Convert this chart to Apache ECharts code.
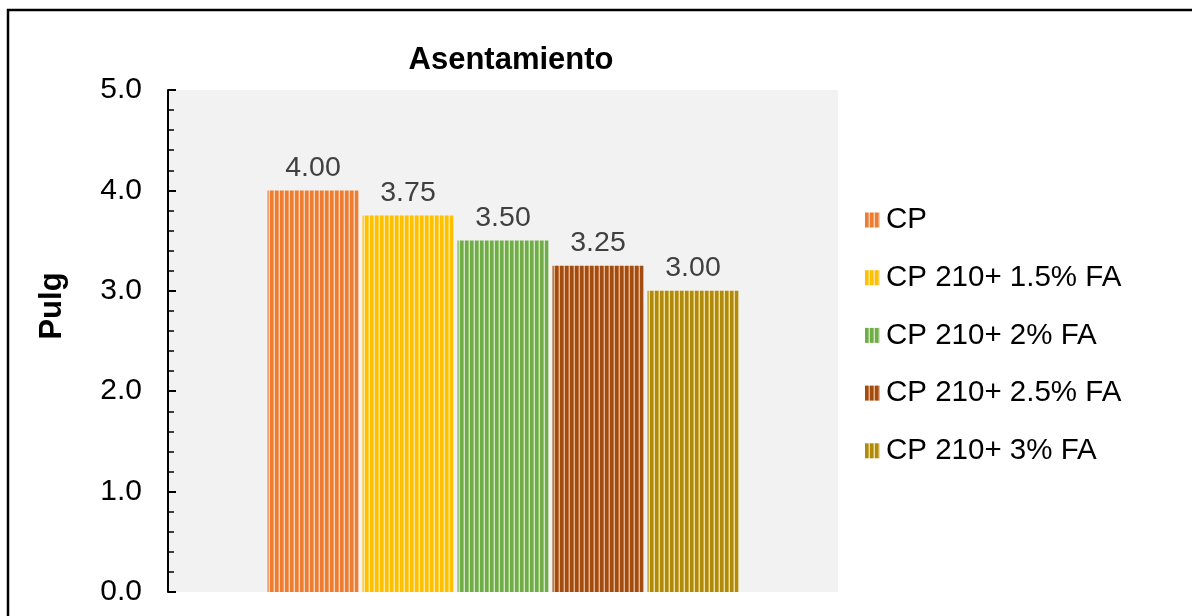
<!DOCTYPE html>
<html>
<head>
<meta charset="utf-8">
<script src="https://cdn.jsdelivr.net/npm/echarts@6/dist/echarts.min.js"></script>
<style>
html,body{margin:0;padding:0;background:#fff;}
#chart{width:1192px;height:616px;}
</style>
</head>
<body>
<div id="chart"></div>
<script>
var categories = ['Asentamiento'];
var seriesNames = ['CP', 'CP 210+ 1.5% FA', 'CP 210+ 2% FA', 'CP 210+ 2.5% FA', 'CP 210+ 3% FA'];
var values = [4.00, 3.75, 3.50, 3.25, 3.00];
var yTicks = [0, 1, 2, 3, 4, 5];

var palette = [
  ['#ED7D31', '#F9D2B6', '#F2A06B'],
  ['#FFC000', '#FFE699', '#FFD24D'],
  ['#70AD47', '#D2E6C4', '#9AC67C'],
  ['#A34C10', '#E3B48E', '#C07A48'],
  ['#B08A0A', '#EEDC9A', '#CDB04C']
];

function stripe(c) {
  var cv = document.createElement('canvas');
  cv.width = 5; cv.height = 4;
  var ctx = cv.getContext('2d');
  ctx.fillStyle = c[0]; ctx.fillRect(0, 0, 3, 4);
  ctx.fillStyle = c[2]; ctx.fillRect(3, 0, 1, 4);
  ctx.fillStyle = c[1]; ctx.fillRect(4, 0, 1, 4);
  return { image: cv, repeat: 'repeat' };
}

var FONT = 'Arial, "Liberation Sans", sans-serif';
var chart = echarts.init(document.getElementById('chart'), null, { renderer: 'canvas' });

var series = seriesNames.map(function (name, i) {
  return {
    name: name,
    type: 'bar',
    data: [values[i]],
    barWidth: 91,
    barGap: '4.4%',
    itemStyle: { color: stripe(palette[i]) },
    label: {
      show: true,
      position: 'top',
      distance: 8,
      fontFamily: FONT,
      fontSize: 28.5,
      color: '#404040',
      formatter: function (p) { return p.value.toFixed(2); }
    }
  };
});

chart.setOption({
  animation: false,
  backgroundColor: '#ffffff',
  title: {
    text: 'Asentamiento',
    left: 506,
    textAlign: 'center',
    top: 40,
    textStyle: { fontFamily: FONT, fontSize: 31, fontWeight: 'bold', color: '#000' }
  },
  graphic: [
    {
      type: 'rect',
      shape: { x: 8, y: 10, width: 1220, height: 700 },
      style: { fill: 'none', stroke: '#000', lineWidth: 2.5 },
      z: 100
    },
    {
      type: 'text',
      x: 52, y: 306,
      rotation: Math.PI / 2,
      style: {
        text: 'Pulg',
        fontFamily: FONT, fontSize: 31, fontWeight: 'bold', fill: '#000',
        align: 'center', verticalAlign: 'middle'
      }
    }
  ],
  legend: {
    orient: 'vertical',
    left: 865,
    top: 205,
    padding: 0,
    itemWidth: 15,
    itemHeight: 15,
    itemGap: 27.7,
    icon: 'rect',
    textStyle: { fontFamily: FONT, fontSize: 29.5, color: '#000', lineHeight: 30, padding: [0, 0, 0, 1] },
    data: seriesNames
  },
  grid: {
    left: 168, right: 354, top: 90, bottom: 24,
    show: true, backgroundColor: '#F2F2F2', borderWidth: 0
  },
  xAxis: {
    type: 'category',
    data: categories,
    show: false
  },
  yAxis: {
    type: 'value',
    min: yTicks[0],
    max: yTicks[yTicks.length - 1],
    interval: 1,
    axisLine: { show: true, lineStyle: { color: '#000', width: 2 } },
    axisTick: { show: true, inside: true, length: 8, lineStyle: { color: '#000', width: 2 } },
    minorTick: { show: true, splitNumber: 5, length: 6, lineStyle: { color: '#000', width: 1.5 } },
    splitLine: { show: false },
    axisLabel: {
      fontFamily: FONT, fontSize: 30, color: '#000', margin: 26,
      formatter: function (v) { return v.toFixed(1); }
    }
  },
  series: series
});
</script>
</body>
</html>
